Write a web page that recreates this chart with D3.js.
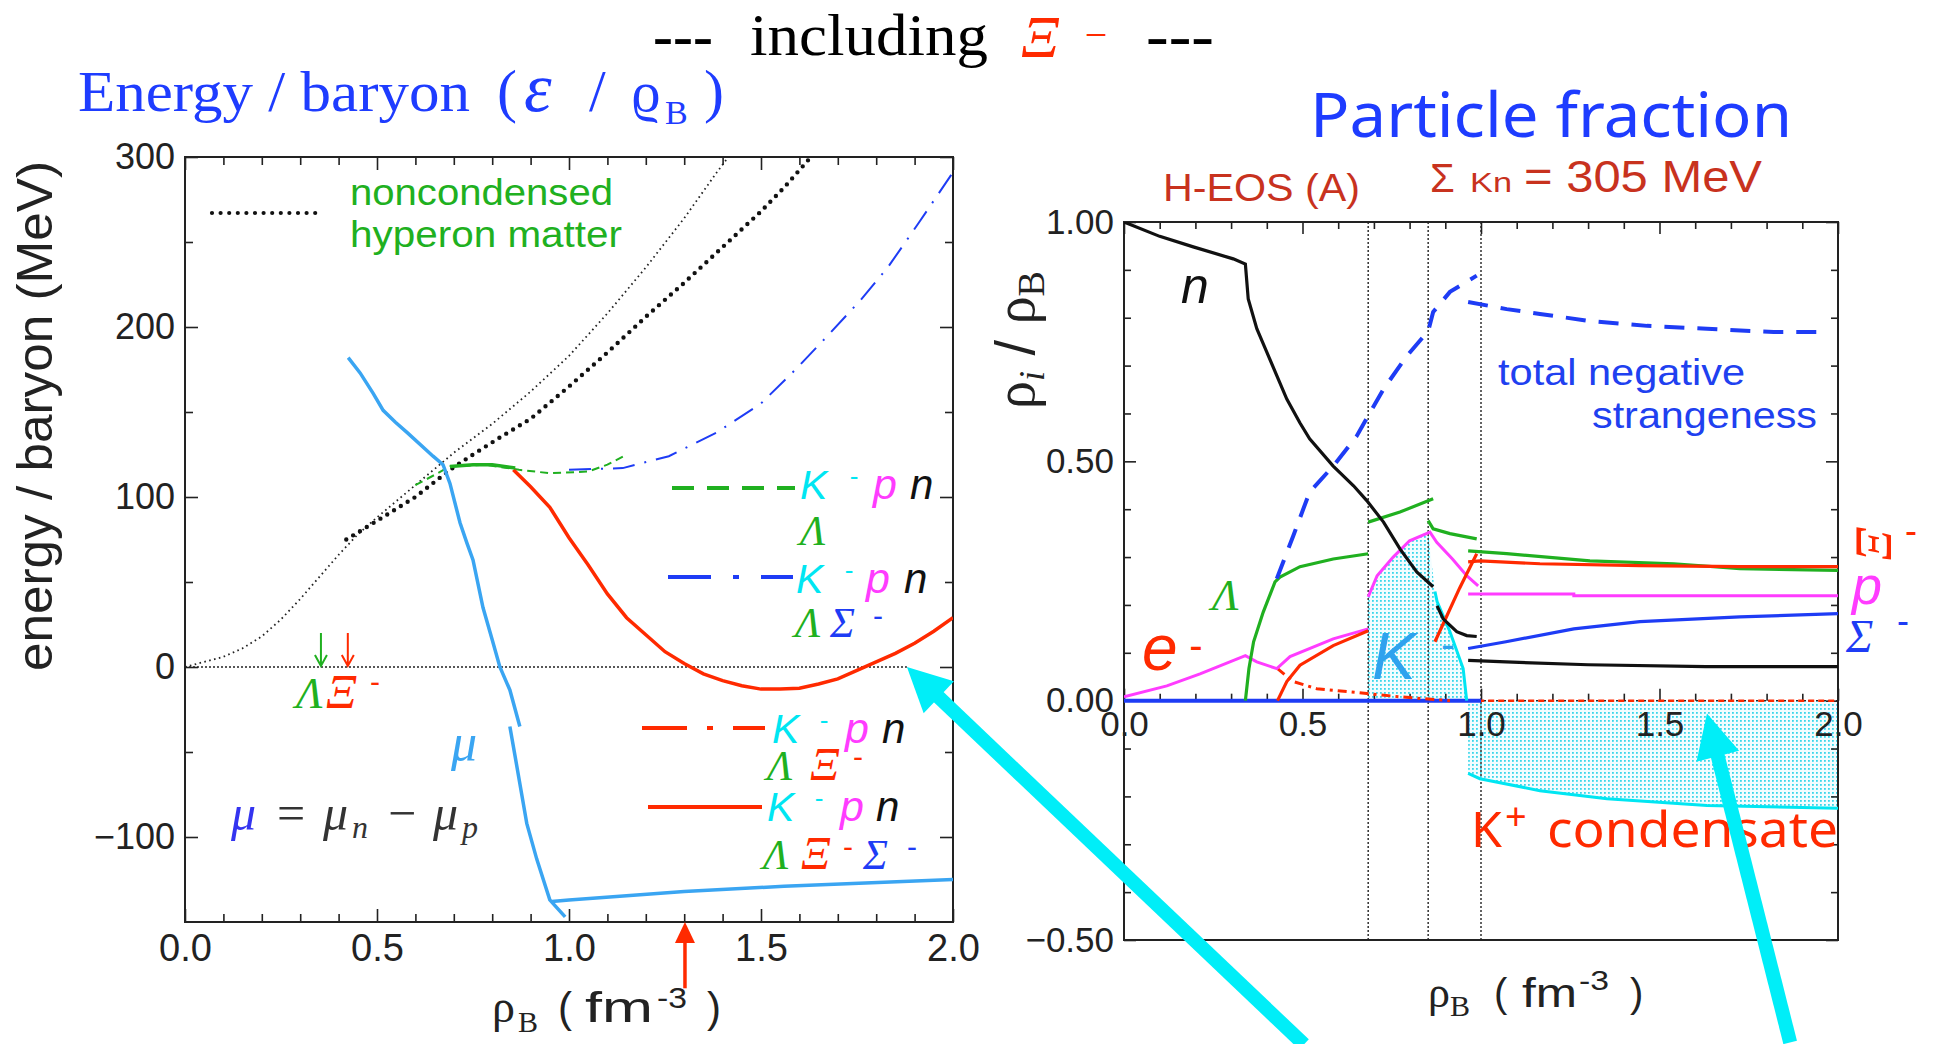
<!DOCTYPE html>
<html><head><meta charset="utf-8">
<script src="https://cdn.jsdelivr.net/npm/d3@7/dist/d3.min.js"></script>
<style>html,body{margin:0;padding:0;background:#fff;overflow:hidden}</style>
</head><body>
<svg id="chart" width="1933" height="1044" xmlns="http://www.w3.org/2000/svg"></svg>
<script>
// ================= DATA =================
const densityTickValues = [0, 0.5, 1, 1.5, 2];
const densityTickLabels = ["0.0", "0.5", "1.0", "1.5", "2.0"];
const energyTickValues = [300, 200, 100, 0, -100];
const energyTickLabels = ["300", "200", "100", "0", "\u2212100"];
const energyMinorTicks = [250, 150, 50, -50];
const fractionTickValues = [1, 0.5, 0, -0.5];
const fractionTickLabels = ["1.00", "0.50", "0.00", "\u22120.50"];

// Left panel: energy per baryon (MeV) vs rho_B (fm^-3)
const noncondensedThin = [[0,0],[0.05,3],[0.1,6],[0.15,11],[0.2,18],[0.25,28],[0.3,40],[0.35,53],[0.4,66],[0.45,78],[0.5,88],[0.6,107],[0.7,126],[0.8,143],[0.9,162],[1.0,183],[1.1,208],[1.2,235],[1.3,264],[1.385,291],[1.415,300]];
const noncondensedThick = [[0.42,75],[0.5,86],[0.6,100],[0.69,116],[0.75,125],[0.82,135],[0.9,146],[1.0,165],[1.1,185],[1.2,206],[1.3,226],[1.4,247],[1.5,268],[1.56,282],[1.63,300]];
const kpnLambda = [[0.6,107],[0.65,113],[0.69,118],[0.78,119],[0.87,116],[0.95,114],[1.05,115],[1.1,119],[1.15,125]];
const kpnLambdaOverlap = [[0.69,118],[0.75,119],[0.8,119],[0.86,117]];
const kpnLambdaSigma = [[1.0,116],[1.14,117],[1.26,124],[1.385,138],[1.5,155],[1.59,175],[1.67,194],[1.76,216],[1.83,235],[1.91,261],[2.0,291]];
const kpnLambdaXiSigma = [[0.855,116],[0.9,106],[0.95,94],[1.0,76],[1.05,60],[1.1,43],[1.15,29],[1.2,19],[1.25,9],[1.3,2],[1.35,-4],[1.4,-8],[1.45,-11],[1.5,-13],[1.55,-13],[1.6,-12.5],[1.65,-10],[1.7,-7],[1.75,-2],[1.8,3],[1.85,8],[1.9,14],[1.95,21],[2.0,29]];
const muUpper = [[0.425,182],[0.456,173],[0.49,161],[0.516,151],[0.548,144],[0.578,138],[0.646,124],[0.672,119],[0.69,108],[0.716,85],[0.734,73],[0.75,63],[0.776,35],[0.8,16],[0.82,0],[0.846,-13.5],[0.872,-35]];
const muLower = [[0.846,-35],[0.86,-53],[0.89,-92],[0.916,-113],[0.95,-137],[0.99,-147]];
const muFlat = [[0.955,-138],[1.0,-137],[1.3,-132],[1.56,-129],[2.0,-125]];
const energyZeroLine = [[0,0],[1.88,0]];
const onsetArrows = [{x:0.354, color:"green"}, {x:0.424, color:"red"}];
const xiOnsetEnergy = 1.302;

// Right panel: particle fractions rho_i / rho_B
const phaseBoundaries = [0.684, 0.852, 1.0];
const neutron1 = [[0,1.0],[0.1,0.97],[0.194,0.948],[0.306,0.923],[0.34,0.912],[0.348,0.839],[0.372,0.777],[0.4,0.728],[0.428,0.679],[0.456,0.63],[0.493,0.58],[0.52,0.547],[0.586,0.49],[0.643,0.449],[0.68,0.418],[0.727,0.373],[0.773,0.317],[0.82,0.269],[0.866,0.238]];
const neutron2 = [[0.877,0.198],[0.894,0.171],[0.932,0.144],[0.96,0.136],[0.988,0.134]];
const neutron3 = [[0.964,0.084],[1.07,0.081],[1.3,0.075],[1.63,0.071],[2.0,0.071]];
const strangeness1 = [[0.428,0.255],[0.474,0.344],[0.52,0.436],[0.586,0.49],[0.652,0.553],[0.684,0.595],[0.727,0.651],[0.792,0.72],[0.852,0.772],[0.866,0.812],[0.913,0.854],[0.988,0.888]];
const strangeness2 = [[0.964,0.833],[1.072,0.818],[1.165,0.808],[1.305,0.793],[1.465,0.783],[1.633,0.777],[1.82,0.77],[1.965,0.77]];
const lambda1 = [[0.34,0.0],[0.35,0.067],[0.363,0.123],[0.39,0.185],[0.423,0.248],[0.437,0.258],[0.493,0.28],[0.586,0.296],[0.684,0.307]];
const lambda2 = [[0.684,0.373],[0.773,0.394],[0.866,0.422]];
const lambda3 = [[0.852,0.376],[0.866,0.359],[0.913,0.349],[0.988,0.338]];
const lambda4 = [[0.964,0.313],[1.072,0.307],[1.305,0.292],[1.54,0.286],[1.725,0.276],[2.0,0.272]];
const xi1 = [[0.43,0.0],[0.456,0.04],[0.493,0.074],[0.586,0.115],[0.684,0.146]];
const xi2 = [[0.871,0.123],[0.9,0.17],[0.94,0.235],[0.988,0.307]];
const xi3 = [[0.964,0.29],[0.997,0.292],[1.165,0.286],[1.445,0.282],[1.725,0.28],[2.0,0.28]];
const proton1 = [[0,0.008],[0.12,0.031],[0.213,0.056],[0.34,0.094],[0.372,0.081],[0.428,0.067],[0.465,0.092],[0.586,0.129],[0.684,0.15]];
const proton2 = [[0.684,0.217],[0.709,0.261],[0.754,0.3],[0.8,0.334],[0.857,0.352],[0.876,0.331],[0.92,0.296],[0.96,0.261],[0.992,0.24]];
const proton3 = [[0.964,0.223],[1.26,0.223],[1.26,0.219],[2.0,0.219]];
const sigmaZero = [[0,0],[1.0,0]];
const sigma2 = [[0.964,0.109],[1.07,0.123],[1.26,0.15],[1.445,0.165],[1.725,0.175],[2.0,0.182]];
const electron = [[0.43,0.067],[0.474,0.04],[0.54,0.025],[0.68,0.015],[0.773,0.008],[0.913,0.0]];
const redZero = [[0.684,0],[2.0,0]];
const kMinus = [[0.684,0],[0.684,0.217],[0.709,0.261],[0.754,0.3],[0.8,0.334],[0.852,0.352],[0.871,0.228],[0.877,0.207],[0.913,0.144],[0.95,0.067],[0.96,0]];
const kMinusEdge = [[0.871,0.228],[0.877,0.207],[0.913,0.144],[0.95,0.067],[0.96,0]];
const kPlus = [[0.964,-0.152],[0.997,-0.163],[1.165,-0.188],[1.353,-0.205],[1.633,-0.219],[2.0,-0.225]];

// annotation arrows (data coordinates of tip and tail)
const bigArrowLeft = {tip:[1.88,0], tail:[2.914,-222]};
const bigArrowRight = {tip:[1.633,-0.027], tail:[1.866,-0.714]};

// ================= STYLE =================
const SANS = "'Liberation Sans', Arial, sans-serif";
const SERIF = "'Liberation Serif', 'Times New Roman', serif";
const C = {green:"#20b020", red:"#ff2a00", magenta:"#ff3cff", blue:"#1e3cf5", lightBlue:"#3aa5f2",
  cyan:"#00e6f2", arrowCyan:"#00eef8", title:"#1e3cff", darkRed:"#c8321e", kText:"#2fa2ee"};

const svg = d3.select("#chart");
const defs = svg.append("defs");

const xE = d3.scaleLinear().domain([0,2]).range([185,953]);
const yE = d3.scaleLinear().domain([-150,300]).range([922,157]);
const xF = d3.scaleLinear().domain([0,2]).range([1124,1838]);
const yF = d3.scaleLinear().domain([-0.5,1]).range([940,222]);

defs.append("clipPath").attr("id","clipE").append("rect")
  .attr("x",xE(0)).attr("y",yE(300)).attr("width",xE(2)-xE(0)).attr("height",yE(-150)-yE(300));
defs.append("clipPath").attr("id","clipF").append("rect")
  .attr("x",xF(0)).attr("y",yF(1)).attr("width",xF(2)-xF(0)).attr("height",yF(-0.5)-yF(1));
const pat = defs.append("pattern").attr("id","kdots").attr("patternUnits","userSpaceOnUse").attr("width",4).attr("height",4);
pat.append("rect").attr("width",4).attr("height",4).attr("fill","#f2fdff");
pat.append("rect").attr("width",1.8).attr("height",1.8).attr("fill","#3ad6ea");

function txt(g, x, y, s, o = {}) {
  const t = g.append("text").attr("x", x).attr("y", y).text(s)
    .attr("font-family", o.family || SANS).attr("font-size", o.size || 30).attr("fill", o.fill || "#000");
  if (o.italic) t.attr("font-style", "italic");
  if (o.bold) t.attr("font-weight", "bold");
  if (o.anchor) t.attr("text-anchor", o.anchor);
  if (o.width) t.attr("textLength", o.width).attr("lengthAdjust", "spacingAndGlyphs");
  if (o.rotate) t.attr("transform", `rotate(${o.rotate} ${x} ${y})`);
  return t;
}
function minus(g, cx, cy, size, fill) {
  return txt(g, cx, cy + size*0.27, "-", {size, fill, anchor:"middle"});
}
function sty(sel, fs) {
  sel.select(".domain").remove();
  sel.selectAll(".tick line").attr("stroke","#222").attr("stroke-width",1.6);
  sel.selectAll(".tick text").attr("font-family",SANS).attr("font-size",fs).attr("fill","#222");
}
const minorX = d3.range(0,21).map(i=>i/10).filter(v => Math.abs(v*2 - Math.round(v*2)) > 1e-6);
const minorF = d3.range(-5,11).map(i=>i/10).filter(v => Math.abs(v*2 - Math.round(v*2)) > 1e-6);

// ================= LEFT PANEL =================
const gE = svg.append("g");
gE.append("g").attr("transform",`translate(0,${yE(-150)})`)
  .call(d3.axisBottom(xE).tickValues(densityTickValues).tickSize(-13).tickPadding(12).tickFormat((d,i)=>densityTickLabels[i])).call(sty,38);
gE.append("g").attr("transform",`translate(0,${yE(-150)})`)
  .call(d3.axisBottom(xE).tickValues(minorX).tickSize(-8).tickFormat("")).call(sty,10);
gE.append("g").attr("transform",`translate(0,${yE(300)})`)
  .call(d3.axisTop(xE).tickValues(densityTickValues).tickSize(-13).tickFormat("")).call(sty,10);
gE.append("g").attr("transform",`translate(0,${yE(300)})`)
  .call(d3.axisTop(xE).tickValues(minorX).tickSize(-8).tickFormat("")).call(sty,10);
gE.append("g").attr("transform",`translate(${xE(0)},0)`)
  .call(d3.axisLeft(yE).tickValues(energyTickValues).tickSize(-13).tickPadding(10).tickFormat((d,i)=>energyTickLabels[i])).call(sty,36);
gE.append("g").attr("transform",`translate(${xE(0)},0)`)
  .call(d3.axisLeft(yE).tickValues(energyMinorTicks).tickSize(-8).tickFormat("")).call(sty,10);
gE.append("g").attr("transform",`translate(${xE(2)},0)`)
  .call(d3.axisRight(yE).tickValues(energyTickValues).tickSize(-13).tickFormat("")).call(sty,10);
gE.append("g").attr("transform",`translate(${xE(2)},0)`)
  .call(d3.axisRight(yE).tickValues(energyMinorTicks).tickSize(-8).tickFormat("")).call(sty,10);
gE.append("rect").attr("x",xE(0)).attr("y",yE(300)).attr("width",xE(2)-xE(0)).attr("height",yE(-150)-yE(300))
  .attr("fill","none").attr("stroke","#222").attr("stroke-width",2);

const lineE = d3.line().x(d=>xE(d[0])).y(d=>yE(d[1]));
const cE = gE.append("g").attr("clip-path","url(#clipE)").attr("fill","none");
cE.append("path").attr("d",lineE(energyZeroLine)).attr("stroke","#222").attr("stroke-width",1.6).attr("stroke-dasharray","2 2");
cE.append("path").attr("d",lineE(noncondensedThin)).attr("stroke","#222").attr("stroke-width",1.8).attr("stroke-dasharray","1.6 3.4");
cE.append("path").attr("d",lineE(noncondensedThick)).attr("stroke","#111").attr("stroke-width",4.4).attr("stroke-linecap","round").attr("stroke-dasharray","0 8");
cE.append("path").attr("d",lineE(kpnLambda)).attr("stroke",C.green).attr("stroke-width",2).attr("stroke-dasharray","8 5");
cE.append("path").attr("d",lineE(kpnLambdaSigma)).attr("stroke",C.blue).attr("stroke-width",2).attr("stroke-dasharray","22 10 2 10");
cE.append("path").attr("d",lineE(kpnLambdaXiSigma)).attr("stroke",C.red).attr("stroke-width",3.5);
cE.append("path").attr("d",lineE(kpnLambdaOverlap)).attr("stroke",C.green).attr("stroke-width",3.5);
[muUpper, muLower, muFlat].forEach(s => cE.append("path").attr("d",lineE(s)).attr("stroke",C.lightBlue).attr("stroke-width",3.5));

// small onset arrows
onsetArrows.forEach(a => {
  const col = a.color === "green" ? C.green : C.red;
  const x = xE(a.x), y0 = yE(20), y1 = yE(0.6);
  gE.append("path").attr("d",`M${x},${y0}L${x},${y1}M${x-6},${y1-11}L${x},${y1}L${x+6},${y1-11}`)
    .attr("stroke",col).attr("stroke-width",2).attr("fill","none");
});
// red up arrow at xi onset
{
  const x = xE(xiOnsetEnergy), yt = yE(-150), yb = yE(-189);
  gE.append("path").attr("d",`M${x},${yb}L${x},${yt+18}`).attr("stroke",C.red).attr("stroke-width",3.5);
  gE.append("path").attr("d",`M${x},${yt}L${x+10},${yt+21}L${x-10},${yt+21}Z`).attr("fill",C.red);
}

// legend / annotations (left)
gE.append("path").attr("d",`M212,213L316,213`).attr("stroke","#111").attr("stroke-width",4.2).attr("stroke-dasharray","0 8.6").attr("stroke-linecap","round").attr("fill","none");
txt(gE, 350, 205, "noncondensed", {size:36, fill:C.green, width:263});
txt(gE, 350, 247, "hyperon matter", {size:36, fill:C.green, width:272});

function kpn(g, xK, xm, xp, xn, base) {
  txt(g, xK, base, "K", {italic:true, size:41, fill:C.cyan});
  minus(g, xm + 4, base-21, 26, C.cyan);
  txt(g, xp + 3, base, "p", {italic:true, size:43, fill:C.magenta});
  txt(g, xn + 4, base, "n", {italic:true, size:42, fill:"#111"});
}
const GK = {family:SERIF, italic:true, size:42};
// legend 1: K- p n Lambda (green dashed)
gE.append("path").attr("d","M672,488L795,488").attr("stroke",C.green).attr("stroke-width",4).attr("stroke-dasharray","22 13");
kpn(gE, 800, 850, 870, 906, 499);
txt(gE, 800, 545, "\u039B", {...GK, fill:C.green});
// legend 2: K- p n Lambda Sigma (blue dash-dot)
gE.append("path").attr("d","M668,577L793,577").attr("stroke",C.blue).attr("stroke-width",4).attr("stroke-dasharray","43 22 6 22");
kpn(gE, 796, 845, 863, 900, 593);
txt(gE, 795, 637, "\u039B", {...GK, fill:C.green});
txt(gE, 830, 637, "\u03A3", {...GK, fill:C.blue});
minus(gE, 878, 618, 30, C.blue);
// legend 3: K- p n Lambda Xi (red dash-dot)
gE.append("path").attr("d","M642,728L765,728").attr("stroke",C.red).attr("stroke-width",4).attr("stroke-dasharray","45 20 6 20");
kpn(gE, 772, 820, 842, 878, 743);
txt(gE, 767, 780, "\u039B", {...GK, fill:C.green});
txt(gE, 810, 780, "\u039E", {...GK, size:46, fill:C.red});
minus(gE, 858, 759, 30, C.red);
// legend 4: K- p n Lambda Xi Sigma (red solid)
gE.append("path").attr("d","M648,807L762,807").attr("stroke",C.red).attr("stroke-width",4);
kpn(gE, 767, 815, 837, 872, 821);
txt(gE, 763, 869, "\u039B", {...GK, fill:C.green});
txt(gE, 801, 869, "\u039E", {...GK, size:46, fill:C.red});
minus(gE, 848, 849, 30, C.red);
txt(gE, 863, 869, "\u03A3", {...GK, fill:C.blue});
minus(gE, 912, 849, 30, C.blue);

// Lambda Xi- near arrows
txt(gE, 296, 708, "\u039B", {...GK, size:44, fill:C.green});
txt(gE, 326, 708, "\u039E", {...GK, size:48, fill:C.red});
minus(gE, 375, 684, 30, C.red);
// mu labels
txt(gE, 451, 760, "\u03BC", {family:SERIF, italic:true, size:52, fill:C.lightBlue});
{
  const M = {family:SERIF, italic:true, size:50, fill:"#333"};
  txt(gE, 231, 830, "\u03BC", {...M, fill:"#3434f0"});
  txt(gE, 277, 830, "=", {family:SERIF, size:50, fill:"#333"});
  txt(gE, 323, 830, "\u03BC", M);
  txt(gE, 352, 838, "n", {...M, size:32});
  txt(gE, 388, 830, "\u2212", {family:SERIF, size:50, fill:"#333"});
  txt(gE, 433, 830, "\u03BC", M);
  txt(gE, 462, 838, "p", {...M, size:32});
}

// axis titles (left)
txt(svg, 52, 416, "energy / baryon (MeV)", {size:50, anchor:"middle", rotate:-90, width:510, fill:"#222"});
txt(svg, 492, 1022, "\u03C1", {family:SERIF, size:46, fill:"#222"});
txt(svg, 518, 1032, "B", {family:SERIF, size:30, fill:"#222"});
txt(svg, 558, 1022, "(", {size:42, fill:"#222"});
txt(svg, 585, 1022, "fm", {size:42, fill:"#222", width:68});
txt(svg, 657, 1008, "-3", {size:30, fill:"#222", width:30});
txt(svg, 707, 1022, ")", {size:42, fill:"#222"});

// ================= RIGHT PANEL =================
const gF = svg.append("g");
const lineF = d3.line().x(d=>xF(d[0])).y(d=>yF(d[1]));
const areaF = d3.area().x(d=>xF(d[0])).y0(yF(0)).y1(d=>yF(d[1]));
const cF = gF.append("g").attr("clip-path","url(#clipF)").attr("fill","none");
cF.append("path").attr("d",areaF(kMinus)).attr("fill","url(#kdots)");
cF.append("path").attr("d",areaF(kPlus)).attr("fill","url(#kdots)");

gF.append("g").attr("transform",`translate(0,${yF(0)})`)
  .call(d3.axisBottom(xF).tickValues(densityTickValues).tickSize(-12).tickPadding(10).tickFormat((d,i)=>densityTickLabels[i])).call(sty,35);
gF.append("g").attr("transform",`translate(0,${yF(0)})`)
  .call(d3.axisBottom(xF).tickValues(minorX).tickSize(-7).tickFormat("")).call(sty,10);
gF.append("g").attr("transform",`translate(0,${yF(1)})`)
  .call(d3.axisTop(xF).tickValues(densityTickValues).tickSize(-12).tickFormat("")).call(sty,10);
gF.append("g").attr("transform",`translate(0,${yF(1)})`)
  .call(d3.axisTop(xF).tickValues(minorX).tickSize(-7).tickFormat("")).call(sty,10);
gF.append("g").attr("transform",`translate(${xF(0)},0)`)
  .call(d3.axisLeft(yF).tickValues(fractionTickValues).tickSize(-12).tickPadding(10).tickFormat((d,i)=>fractionTickLabels[i])).call(sty,35);
gF.append("g").attr("transform",`translate(${xF(0)},0)`)
  .call(d3.axisLeft(yF).tickValues(minorF).tickSize(-7).tickFormat("")).call(sty,10);
gF.append("g").attr("transform",`translate(${xF(2)},0)`)
  .call(d3.axisRight(yF).tickValues(fractionTickValues).tickSize(-12).tickFormat("")).call(sty,10);
gF.append("g").attr("transform",`translate(${xF(2)},0)`)
  .call(d3.axisRight(yF).tickValues(minorF).tickSize(-7).tickFormat("")).call(sty,10);
gF.append("rect").attr("x",xF(0)).attr("y",yF(1)).attr("width",xF(2)-xF(0)).attr("height",yF(-0.5)-yF(1))
  .attr("fill","none").attr("stroke","#222").attr("stroke-width",2);

const cF2 = gF.append("g").attr("clip-path","url(#clipF)").attr("fill","none");
phaseBoundaries.forEach(b => cF2.append("path").attr("d",lineF([[b,1],[b,-0.5]])).attr("stroke","#222").attr("stroke-width",1.4).attr("stroke-dasharray","2 2"));
cF2.append("path").attr("d",lineF([[0,0],[2,0]])).attr("stroke","#222").attr("stroke-width",1.4).attr("stroke-dasharray","2 2");
cF2.append("path").attr("d",lineF(redZero)).attr("stroke",C.red).attr("stroke-width",2.5).attr("stroke-dasharray","6 4");
cF2.append("path").attr("d",lineF(sigmaZero)).attr("stroke",C.blue).attr("stroke-width",4);
cF2.append("path").attr("d",lineF(kMinusEdge)).attr("stroke",C.cyan).attr("stroke-width",3);
cF2.append("path").attr("d",lineF(kPlus)).attr("stroke",C.cyan).attr("stroke-width",3);
cF2.append("path").attr("d",lineF(electron)).attr("stroke",C.red).attr("stroke-width",3).attr("stroke-dasharray","9 5 3 5");
[proton1, proton2, proton3].forEach(s => cF2.append("path").attr("d",lineF(s)).attr("stroke",C.magenta).attr("stroke-width",3));
[lambda1, lambda2, lambda3, lambda4].forEach(s => cF2.append("path").attr("d",lineF(s)).attr("stroke",C.green).attr("stroke-width",3.2));
[xi1, xi2, xi3].forEach(s => cF2.append("path").attr("d",lineF(s)).attr("stroke",C.red).attr("stroke-width",3.2));
cF2.append("path").attr("d",lineF(sigma2)).attr("stroke",C.blue).attr("stroke-width",3.2);
[neutron1, neutron2, neutron3].forEach(s => cF2.append("path").attr("d",lineF(s)).attr("stroke","#111").attr("stroke-width",3.2));
[strangeness1, strangeness2].forEach(s => cF2.append("path").attr("d",lineF(s)).attr("stroke",C.blue).attr("stroke-width",4).attr("stroke-dasharray","20 13"));

// right panel labels
txt(gF, 1181, 303, "n", {italic:true, size:50, fill:"#111"});
txt(gF, 1498, 385, "total negative", {size:36, fill:"#2040f0", width:247});
txt(gF, 1592, 428, "strangeness", {size:36, fill:"#2040f0", width:225});
txt(gF, 1212, 610, "\u039B", {family:SERIF, italic:true, size:44, fill:C.green});
txt(gF, 1142, 670, "e", {italic:true, size:64, fill:C.red});
minus(gF, 1196, 648, 40, C.red);
txt(gF, 1372, 679, "K", {italic:true, size:66, fill:C.kText});
minus(gF, 1448, 648, 42, C.kText);
txt(gF, 1471, 847, "K", {size:50, fill:C.red, family:"'Noto Sans', sans-serif"});
txt(gF, 1505, 830, "+", {size:38, fill:C.red, family:"'Noto Sans', sans-serif"});
txt(gF, 1547, 847, "condensate", {size:50, fill:C.red, family:"'Noto Sans', sans-serif", width:291});
// right side species labels
txt(gF, 1856, 543, "\u039E", {family:SERIF, italic:true, size:52, fill:C.red, anchor:"middle", rotate:90});
minus(gF, 1911, 533, 36, C.red);
txt(gF, 1852, 604, "p", {italic:true, size:54, fill:C.magenta});
txt(gF, 1846, 652, "\u03A3", {family:SERIF, italic:true, size:46, fill:C.blue});
minus(gF, 1903, 623, 36, C.blue);

// right axis titles
{
  const t = svg.append("text").attr("transform","translate(1034,340) rotate(-90)").attr("text-anchor","middle")
    .attr("font-family",SERIF).attr("font-size",56).attr("fill","#222");
  t.append("tspan").text("\u03C1");
  t.append("tspan").text("i").attr("font-style","italic").attr("font-size",36).attr("dy",10);
  t.append("tspan").text(" / ").attr("font-family",SANS).attr("dy",-10);
  t.append("tspan").text("\u03C1");
  t.append("tspan").text("B").attr("font-size",38).attr("dy",10);
}
txt(svg, 1428, 1007, "\u03C1", {family:SERIF, size:44, fill:"#222"});
txt(svg, 1450, 1016, "B", {family:SERIF, size:30, fill:"#222"});
txt(svg, 1494, 1007, "(", {size:40, fill:"#222"});
txt(svg, 1522, 1007, "fm", {size:40, fill:"#222", width:55});
txt(svg, 1579, 990, "-3", {size:28, fill:"#222", width:30});
txt(svg, 1630, 1007, ")", {size:40, fill:"#222"});

// ================= TITLES =================
txt(svg, 653, 55, "---", {family:SERIF, size:58, bold:true, width:60});
txt(svg, 750, 55, "including", {family:SERIF, size:60, width:238});
txt(svg, 1021, 57, "\u039E", {family:SERIF, italic:true, size:60, fill:C.red});
txt(svg, 1096, 48, "\u2212", {family:SERIF, size:40, fill:C.red, anchor:"middle"});
txt(svg, 1146, 55, "---", {family:SERIF, size:58, bold:true, width:68});

txt(svg, 78, 111, "Energy / baryon", {family:SERIF, size:58, fill:C.title, width:392});
txt(svg, 497, 111, "(", {family:SERIF, size:60, fill:C.title});
txt(svg, 524, 111, "\u03B5", {family:SERIF, italic:true, size:70, fill:C.title});
txt(svg, 589, 111, "/", {family:SERIF, size:60, fill:C.title});
txt(svg, 631, 111, "\u03F1", {family:SERIF, size:58, fill:C.title});
txt(svg, 665, 124, "B", {family:SERIF, size:34, fill:C.title});
txt(svg, 704, 111, ")", {family:SERIF, size:60, fill:C.title});

txt(svg, 1310, 137, "Particle fraction", {family:"'Noto Sans', sans-serif", size:62, fill:C.title, width:482});
txt(svg, 1163, 201, "H-EOS (A)", {size:38, fill:C.darkRed, width:197});
txt(svg, 1430, 192, "\u03A3", {size:40, fill:C.darkRed});
txt(svg, 1470, 192, "Kn", {size:28, fill:C.darkRed, width:42});
txt(svg, 1524, 192, "= 305 MeV", {size:44, fill:C.darkRed, width:238});

// ================= BIG CYAN ARROWS =================
function bigArrow(a, xs, ys) {
  const tip = [xs(a.tip[0]), ys(a.tip[1])], tail = [xs(a.tail[0]), ys(a.tail[1])];
  const dx = tail[0]-tip[0], dy = tail[1]-tip[1], L = Math.hypot(dx,dy);
  const u = [dx/L, dy/L], n = [-u[1], u[0]];
  const base = [tip[0]+u[0]*44, tip[1]+u[1]*44];
  svg.append("path").attr("d",`M${tail[0]},${tail[1]}L${base[0]+u[0]*-2},${base[1]+u[1]*-2}`)
    .attr("stroke",C.arrowCyan).attr("stroke-width",14).attr("fill","none");
  svg.append("path").attr("d",`M${tip[0]},${tip[1]}L${base[0]+n[0]*22},${base[1]+n[1]*22}L${base[0]-n[0]*22},${base[1]-n[1]*22}Z`)
    .attr("fill",C.arrowCyan);
}
bigArrow(bigArrowLeft, xE, yE);
bigArrow(bigArrowRight, xF, yF);
</script>
</body></html>
